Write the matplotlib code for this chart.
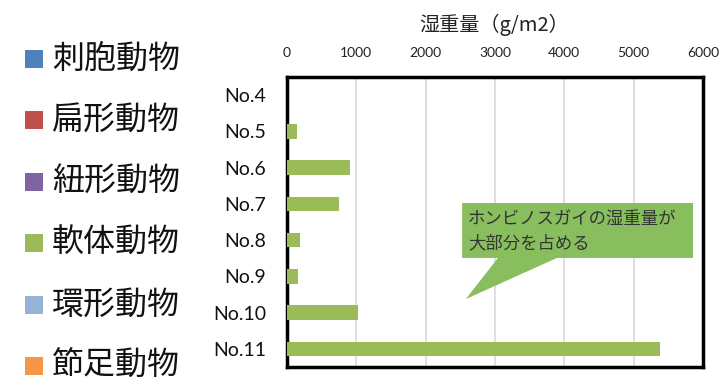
import matplotlib
matplotlib.use("Agg")
import matplotlib.pyplot as plt
from matplotlib.patches import Polygon, Rectangle

plt.rcParams['font.family'] = ['Noto Sans CJK JP', 'DejaVu Sans']

# Sampling stations and wet weight of molluscs (g/m2)
stations = ["No.4", "No.5", "No.6", "No.7", "No.8", "No.9", "No.10", "No.11"]
mollusc_weight = [0, 150, 910, 755, 190, 155, 1030, 5385]

x_ticks = [0, 1000, 2000, 3000, 4000, 5000, 6000]

legend_labels = ["刺胞動物", "扁形動物", "紐形動物", "軟体動物", "環形動物", "節足動物"]
legend_colors = ["#4F81BD", "#C0504D", "#8064A2", "#9BBB59", "#95B3D7", "#F79646"]

title = "湿重量（g/m2）"
note_lines = ["ホンビノスガイの湿重量が", "大部分を占める"]

W, H = 722, 377
fig = plt.figure(figsize=(W / 100, H / 100), dpi=100)
ax = fig.add_axes([287 / W, 10 / H, 416 / W, 290 / H])

ypos = list(range(len(stations)))
ax.barh(ypos, mollusc_weight, height=0.4, color="#9BBB59", zorder=3)
ax.set_ylim(len(stations) - 0.5, -0.5)
ax.set_xlim(0, 6000)

ax.xaxis.tick_top()
ax.set_xticks(x_ticks)
ax.set_xticklabels([str(v) for v in x_ticks], fontsize=10, family="Lato", color="#222222")
ax.set_yticks(ypos)
ax.set_yticklabels(stations, fontsize=14, family="Lato", color="#111111")
ax.tick_params(axis="x", length=0, pad=13)
ax.tick_params(axis="y", length=0, pad=15)
ax.grid(axis="x", color="#D9D9D9", linewidth=1.2, zorder=0)
for s in ax.spines.values():
    s.set_linewidth(2.5)
    s.set_color("black")

fig.text(494 / W, 1 - 25 / H, title, ha="center", va="center", fontsize=14.5, color="#222222")

# Callout bubble
tr = ax.transAxes
bubble = Polygon([(0.421, 0.5655), (0.976, 0.5655), (0.976, 0.376), (0.649, 0.376),
                  (0.430, 0.2345), (0.507, 0.376), (0.421, 0.376)],
                 closed=True, transform=tr, facecolor="#88BE5E", edgecolor="none", zorder=5)
ax.add_patch(bubble)
ax.text(0.435, (367 - 220) / 290, note_lines[0], transform=tr, ha="left", va="center",
        fontsize=12.5, color="#333333", zorder=6)
ax.text(0.435, (367 - 243) / 290, note_lines[1], transform=tr, ha="left", va="center",
        fontsize=12.5, color="#333333", zorder=6)

# Legend on the left
row_y = [59, 120, 182, 243, 305, 366]
for lab, col, yc in zip(legend_labels, legend_colors, row_y):
    fig.patches.append(Rectangle((25 / W, 1 - (yc + 9) / H), 18 / W, 18 / H,
                                 transform=fig.transFigure, facecolor=col, edgecolor="none"))
    fig.text(52 / W, 1 - yc / H, lab, ha="left", va="center", fontsize=23, color="#111111")

fig.savefig("out.png", dpi=100)
